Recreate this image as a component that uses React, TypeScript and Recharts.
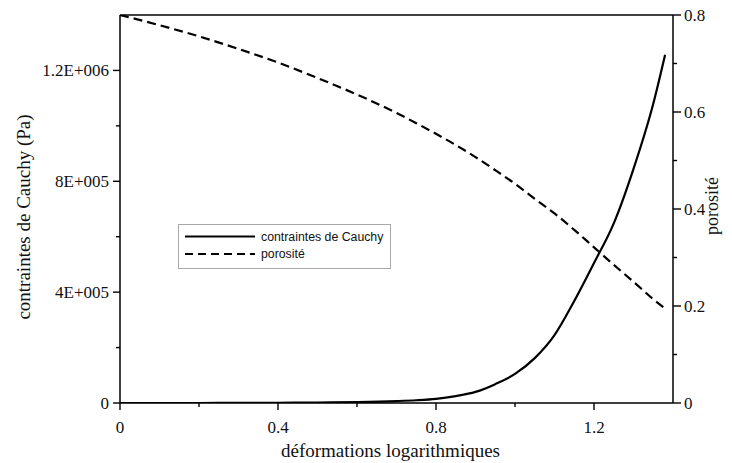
import React from "react";
import { ComposedChart, Line, XAxis, YAxis, ReferenceLine, Label } from "recharts";

const strains = [0, 0.1, 0.2, 0.3, 0.4, 0.5, 0.6, 0.7, 0.75, 0.8, 0.85, 0.9, 0.95, 1.0, 1.05, 1.1, 1.15, 1.2, 1.25, 1.3, 1.35, 1.38];
const stress = [0, 0, 0, 300, 800, 1800, 3500, 7000, 10000, 15000, 25000, 40000, 68000, 105000, 162000, 245000, 368000, 505000, 648000, 845000, 1080000, 1257000];
const porosity = [0.8, 0.779, 0.756, 0.73, 0.702, 0.67, 0.636, 0.598, 0.577, 0.555, 0.532, 0.507, 0.48, 0.452, 0.421, 0.391, 0.357, 0.321, 0.285, 0.25, 0.214, 0.195];

const xTicks = [0, 0.2, 0.4, 0.6, 0.8, 1.0, 1.2, 1.4];
const xMajor = [0, 0.4, 0.8, 1.2];
const leftTicks = [0, 200000, 400000, 600000, 800000, 1000000, 1200000, 1400000];
const leftMajor = [0, 400000, 800000, 1200000];
const leftLabels: Record<number, string> = { 0: "0", 400000: "4E+005", 800000: "8E+005", 1200000: "1.2E+006" };
const rightTicks = [0, 0.1, 0.2, 0.3, 0.4, 0.5, 0.6, 0.7, 0.8];
const rightMajor = [0, 0.2, 0.4, 0.6, 0.8];
const seriesNames = ["contraintes de Cauchy", "porosité"];

const data = strains.map((s, i) => ({ x: s, stress: stress[i], porosity: porosity[i] }));

const SERIF = "'Liberation Serif', 'Times New Roman', serif";
const SANS = "'Liberation Sans', Arial, sans-serif";

const isIn = (arr: number[], v: number) => arr.some((a) => Math.abs(a - v) < 1e-9);

const LeftTick = (props: any) => {
  const { x, y, payload } = props;
  const v = payload.value;
  const major = isIn(leftMajor, v);
  if (Math.abs(v - 1400000) < 1) return <g />;
  return (
    <g>
      <line x1={x} x2={x - (major ? 7 : 4)} y1={y} y2={y} stroke="#000" strokeWidth={1.4} />
      {major && (
        <text x={x - 11} y={y} dy="0.35em" textAnchor="end" fontFamily={SERIF} fontSize={17} fill="#111">
          {leftLabels[v]}
        </text>
      )}
    </g>
  );
};

const RightTick = (props: any) => {
  const { x, y, payload } = props;
  const v = payload.value;
  const major = isIn(rightMajor, v);
  return (
    <g>
      <line x1={x} x2={x + (major ? 8 : 4)} y1={y} y2={y} stroke="#000" strokeWidth={1.4} />
      {major && (
        <text x={x + 11} y={y} dy="0.35em" textAnchor="start" fontFamily={SERIF} fontSize={17} fill="#111">
          {String(v)}
        </text>
      )}
    </g>
  );
};

const BottomTick = (props: any) => {
  const { x, y, payload } = props;
  const v = payload.value;
  const major = isIn(xMajor, v);
  if (Math.abs(v - 1.4) < 1e-9) return <g />;
  return (
    <g>
      <line x1={x} x2={x} y1={y} y2={y + (major ? 7 : 4)} stroke="#000" strokeWidth={1.4} />
      {major && (
        <text x={x} y={y + 30} textAnchor="middle" fontFamily={SERIF} fontSize={17} fill="#111">
          {String(v)}
        </text>
      )}
    </g>
  );
};

const LegendBox = () => (
  <div
    style={{
      position: "absolute",
      left: 170,
      top: 216,
      width: 213,
      height: 45,
      border: "1px solid #a8a8a8",
      background: "#fff",
      boxSizing: "border-box",
    }}
  >
    <svg width={211} height={43} style={{ display: "block" }}>
      <line x1={6} x2={76} y1={11.5} y2={11.5} stroke="#000" strokeWidth={2} />
      <text x={82} y={11.5} dy="0.35em" fontFamily={SANS} fontSize={12.3} fill="#111">
        {seriesNames[0]}
      </text>
      <line x1={6} x2={76} y1={29} y2={29} stroke="#000" strokeWidth={2} strokeDasharray="8 5" />
      <text x={82} y={29} dy="0.35em" fontFamily={SANS} fontSize={12.3} fill="#111">
        {seriesNames[1]}
      </text>
    </svg>
  </div>
);

export default function App() {
  return (
    <div style={{ width: 716, height: 455, position: "relative" }}>
      <style>{`.recharts-surface { overflow: visible; }`}</style>
      <ComposedChart width={716} height={455} data={data} margin={{ top: 7, right: 0, bottom: 30, left: 0 }}>
        <XAxis
          dataKey="x"
          type="number"
          domain={[0, 1.4]}
          ticks={xTicks}
          interval={0}
          tickSize={0}
          tickMargin={0}
          tickLine={false}
          tick={<BottomTick />}
          axisLine={{ stroke: "#000", strokeWidth: 1.5 }}
          height={30}
          allowDataOverflow
        >
          <Label
            content={(p: any) => {
              const vb = p.viewBox;
              return (
                <text x={vb.x + vb.width / 2 - 6} y={vb.y + 54} textAnchor="middle" fontFamily={SERIF} fontSize={19} fill="#111">
                  déformations logarithmiques
                </text>
              );
            }}
          />
        </XAxis>
        <YAxis
          yAxisId="left"
          orientation="left"
          type="number"
          domain={[0, 1400000]}
          ticks={leftTicks}
          interval={0}
          width={112}
          tickSize={0}
          tickMargin={0}
          tickLine={false}
          tick={<LeftTick />}
          axisLine={{ stroke: "#000", strokeWidth: 1.5 }}
          allowDataOverflow
        >
          <Label
            content={(p: any) => {
              const vb = p.viewBox;
              const cx = 15;
              const cy = vb.y + vb.height / 2 + 8;
              return (
                <text x={cx} y={cy} transform={`rotate(-90 ${cx} ${cy})`} textAnchor="middle" dy="0.35em" fontFamily={SERIF} fontSize={19} fill="#111">
                  contraintes de Cauchy (Pa)
                </text>
              );
            }}
          />
        </YAxis>
        <YAxis
          yAxisId="right"
          orientation="right"
          type="number"
          domain={[0, 0.8]}
          ticks={rightTicks}
          interval={0}
          width={51}
          tickSize={0}
          tickMargin={0}
          tickLine={false}
          tick={<RightTick />}
          axisLine={{ stroke: "#000", strokeWidth: 1.5 }}
          allowDataOverflow
        >
          <Label
            content={(p: any) => {
              const vb = p.viewBox;
              const cx = 704;
              const cy = vb.y + vb.height / 2 - 3;
              return (
                <text x={cx} y={cy} transform={`rotate(-90 ${cx} ${cy})`} textAnchor="middle" dy="0.35em" fontFamily={SERIF} fontSize={18} fill="#111">
                  porosité
                </text>
              );
            }}
          />
        </YAxis>
        <ReferenceLine yAxisId="left" y={1400000} stroke="#000" strokeWidth={1.5} />
        <Line
          yAxisId="left"
          type="monotone"
          dataKey="stress"
          name={seriesNames[0]}
          stroke="#000"
          strokeWidth={2.2}
          dot={false}
          isAnimationActive={false}
        />
        <Line
          yAxisId="right"
          type="monotone"
          dataKey="porosity"
          name={seriesNames[1]}
          stroke="#000"
          strokeWidth={2.2}
          strokeDasharray="9 5"
          dot={false}
          isAnimationActive={false}
        />
      </ComposedChart>
      <LegendBox />
    </div>
  );
}
